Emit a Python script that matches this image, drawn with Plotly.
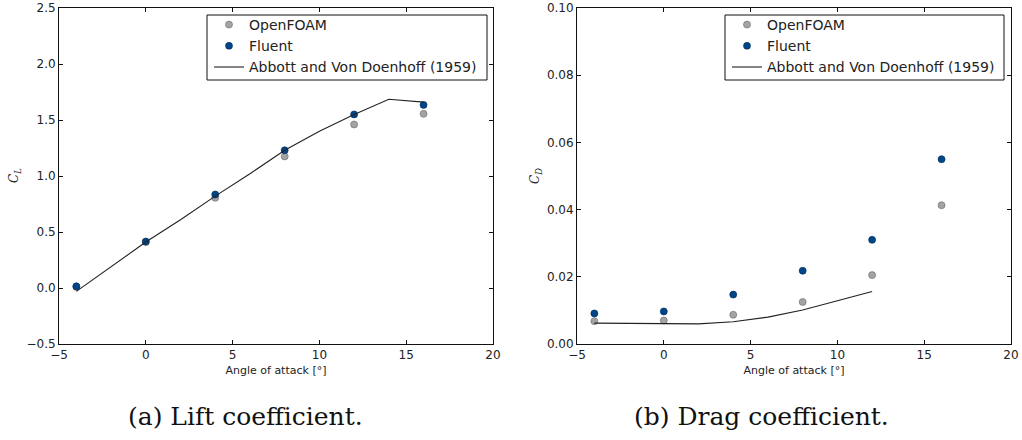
import plotly.graph_objects as go

# ---------------- data ----------------
aoa = [-4, 0, 4, 8, 12, 16]
cl_openfoam = [0.010, 0.410, 0.805, 1.175, 1.460, 1.555]
cl_fluent = [0.015, 0.415, 0.835, 1.230, 1.550, 1.635]
aoa_exp_cl = [-4, -2, 0, 2, 4, 6, 8, 10, 12, 14, 16]
cl_exp = [-0.03, 0.19, 0.41, 0.61, 0.82, 1.02, 1.23, 1.40, 1.55, 1.685, 1.66]

cd_openfoam = [0.0068, 0.0070, 0.0087, 0.0125, 0.0205, 0.0413]
cd_fluent = [0.0091, 0.0097, 0.0147, 0.0218, 0.0310, 0.0550]
aoa_exp_cd = [-4, -2, 0, 2, 4, 6, 8, 10, 12]
cd_exp = [0.0062, 0.0061, 0.0060, 0.0060, 0.0066, 0.0080, 0.0101, 0.0128, 0.0156]

series_names = ["OpenFOAM", "Fluent", "Abbott and Von Doenhoff (1959)"]
captions = ["(a) Lift coefficient.", "(b) Drag coefficient."]
x_title = "Angle of attack [°]"

# ---------------- style ----------------
W, H = 1022, 440
GRAY = "#a3a3a3"
BLUE = "#00468b"
LINE = "#222222"
SANS = "DejaVu Sans"
SERIF = "DejaVu Serif"

fig = go.Figure()

def add_panel(xs, of, fl, xe, ye, xa, ya, leg):
    fig.add_trace(go.Scatter(x=xs, y=of, mode="markers", name=series_names[0],
                             marker=dict(color=GRAY, size=7, line=dict(color="#6a6a6a", width=0.6)),
                             xaxis=xa, yaxis=ya, legend=leg, legendrank=1))
    fig.add_trace(go.Scatter(x=xs, y=fl, mode="markers", name=series_names[1],
                             marker=dict(color=BLUE, size=7, line=dict(color="#00254d", width=0.6)),
                             xaxis=xa, yaxis=ya, legend=leg, legendrank=2))
    fig.add_trace(go.Scatter(x=xe, y=ye, mode="lines", name=series_names[2],
                             line=dict(color=LINE, width=1.1),
                             xaxis=xa, yaxis=ya, legend=leg, legendrank=3))

add_panel(aoa, cl_openfoam, cl_fluent, aoa_exp_cl, cl_exp, "x", "y", "legend")
add_panel(aoa, cd_openfoam, cd_fluent, aoa_exp_cd, cd_exp, "x2", "y2", "legend2")

ax_common = dict(showline=True, linecolor="#111111", linewidth=1, mirror="ticks",
                 ticks="inside", ticklen=4, tickcolor="#111111", tickwidth=1,
                 showgrid=False, zeroline=False, automargin=False,
                 tickfont=dict(family=SANS, size=12, color="#222222"))

def px_x(p):
    return p / W

def px_y(p):
    return 1 - p / H

xdomL = [px_x(59), px_x(493)]
xdomR = [px_x(577), px_x(1011)]
ydom = [px_y(344), px_y(8)]

xt = dict(ax_common, range=[-5, 20], dtick=5, tick0=-5,
          title=dict(text=x_title, font=dict(family=SANS, size=11, color="#222222"), standoff=4))

leg_common = dict(xanchor="left", yanchor="top", borderwidth=0,
                  bgcolor="rgba(0,0,0,0)", font=dict(family=SANS, size=14, color="#222222"),
                  tracegroupgap=0)

fig.update_layout(
    width=W, height=H,
    margin=dict(l=0, r=0, t=0, b=0, pad=0, autoexpand=False),
    paper_bgcolor="white", plot_bgcolor="white",
    xaxis=dict(xt, domain=xdomL, anchor="y"),
    yaxis=dict(ax_common, domain=ydom, anchor="x", range=[-0.5, 2.5], dtick=0.5, tickformat=".1f"),
    xaxis2=dict(xt, domain=xdomR, anchor="y2"),
    yaxis2=dict(ax_common, domain=ydom, anchor="x2", range=[0, 0.1], dtick=0.02, tickformat=".2f"),
    legend=dict(leg_common, x=px_x(209), y=px_y(9)),
    legend2=dict(leg_common, x=px_x(727), y=px_y(9)),
    showlegend=True,
)

# legend frames
for x0, x1 in [(207, 487), (725, 1004)]:
    fig.add_shape(type="rect", xref="paper", yref="paper",
                  x0=px_x(x0), x1=px_x(x1), y0=px_y(80), y1=px_y(15),
                  line=dict(color="#111111", width=1), fillcolor="white", layer="above")

# y-axis titles
for cx, txt in zip([15, 536], ["<i>C<sub>L</sub></i>", "<i>C<sub>D</sub></i>"]):
    fig.add_annotation(text=txt, x=px_x(cx), y=px_y(176), xref="paper", yref="paper",
                       xanchor="center", yanchor="middle", textangle=-90, showarrow=False,
                       font=dict(family=SERIF, size=12, color="#222222"))

# captions
for cx, cap in zip([245, 761], captions):
    fig.add_annotation(text=cap, x=px_x(cx), y=px_y(416), xref="paper", yref="paper",
                       xanchor="center", yanchor="middle", showarrow=False,
                       font=dict(family=SERIF, size=25, color="#111111"))

fig.write_html("out.html", config={"displayModeBar": False},
               post_script="document.body.style.margin='0px';")
